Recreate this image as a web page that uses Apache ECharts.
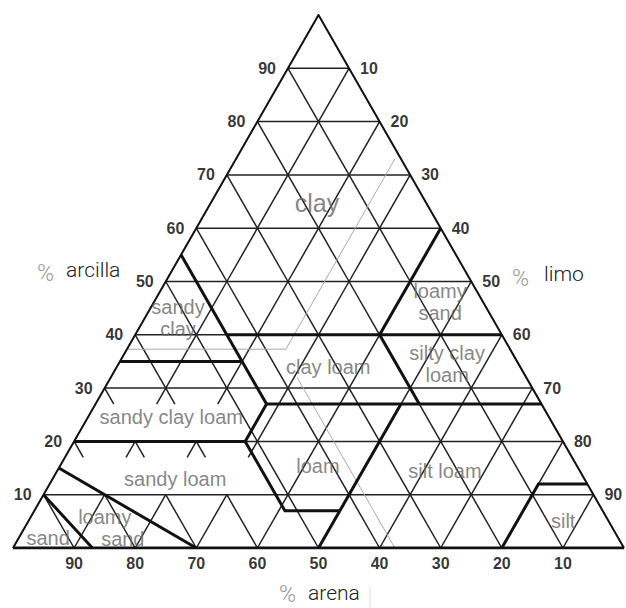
<!DOCTYPE html>
<html>
<head>
<meta charset="utf-8">
<title>Triángulo textural</title>
<script src="https://cdn.jsdelivr.net/npm/echarts@6/dist/echarts.min.js"></script>
<style>
html, body { margin: 0; padding: 0; background: #fff; }
#main { width: 626px; height: 608px; }
</style>
</head>
<body>
<div id="main"></div>
<script>
// puntos ternarios: [arcilla, limo, arena] en %
var ticks = [10, 20, 30, 40, 50, 60, 70, 80, 90];

// limites de las clases texturales
var sandyClayEdge = [[55, 0, 45], [27, 28, 45]];
var clay35 = [[35, 0, 65], [35, 20, 45]];
var clay40 = [[40, 15, 45], [40, 60, 0]];
var silt40 = [[60, 40, 0], [40, 40, 20]];
var sand20 = [[40, 40, 20], [27, 53, 20]];
var clay27 = [[27, 28, 45], [27, 73, 0]];
var loamLeft = [[27, 28, 45], [20, 28, 52], [7, 41, 52], [7, 50, 43]];
var clay20 = [[20, 0, 80], [20, 28, 52]];
var silt50 = [[27, 50, 23], [0, 50, 50]];
var siltCorner = [[12, 88, 0], [12, 80, 8], [0, 80, 20]];
var loamySandEdge = [[15, 0, 85], [0, 30, 70]];
var sandEdge = [[10, 0, 90], [0, 13, 87]];

// lineas tenues del original
var faintA = [[73, 26, 1], [37.3, 26, 36.7], [37.3, 0, 62.7]];
var faintB = [[32, 30.5, 37.5], [0, 62.5, 37.5]];

// nombres de clase y donde van
var classNames = ['clay', 'sandy\nclay', 'loamy\nsand', 'clay loam', 'silty clay\nloam',
    'sandy clay loam', 'loam', 'silt loam', 'sandy loam', 'loamy sand', 'sand', 'silt'];
var classPoints = [[64.7, 17.4, 17.9], [43.2, 5.4, 51.4], [46.2, 46.8, 7], [34, 34.6, 31.4],
    [34.5, 53.8, 11.7], [24.6, 13.6, 61.8], [15.4, 42.2, 42.4], [14.4, 63.5, 22.1],
    [12.9, 20.1, 67], [3.8, 14.6, 81.6], [1.9, 4.8, 93.3], [5.1, 87.5, 7.4]];

function toXY(p) {
    return [p[1] + p[0] / 2, p[0]];
}
function seg(a, b) {
    return { coords: [toXY(a), toXY(b)] };
}
function poly(pts) {
    return { coords: pts.map(toXY) };
}

var myChart = echarts.init(document.getElementById('main'), null, { renderer: 'svg' });

// rejilla cada 10 %
var gridLines = [];
ticks.forEach(function (t) {
    gridLines.push(seg([t, 0, 100 - t], [t, 100 - t, 0]));
});
for (var b = 0; b < 100; b += 10) {
    ticks.forEach(function (t) {
        if (b + 10 > 100 - t) return;
        var partial = (b == 10 || b == 20);
        // lineas de limo constante
        if (partial && 95 - t - b > 51) {
            gridLines.push(seg([b + 10, t, 90 - t - b], [b + 7, t, 93 - t - b]));
        } else {
            gridLines.push(seg([b, t, 100 - t - b], [b + 10, t, 90 - t - b]));
        }
        // lineas de arena constante
        if (partial && t > 51) {
            gridLines.push(seg([b + 10, 90 - t - b, t], [b + 7, 93 - t - b, t]));
        } else {
            gridLines.push(seg([b, 100 - t - b, t], [b + 10, 90 - t - b, t]));
        }
    });
}

var bounds = [sandyClayEdge, clay35, clay40, silt40, sand20, clay27, loamLeft,
    clay20, silt50, siltCorner, loamySandEdge, sandEdge].map(poly);

var tickFont = { fontFamily: 'Liberation Sans, Arial, sans-serif', fontWeight: 'bold', fontSize: 16, color: '#000' };
var titleFont = 'Roboto, Liberation Sans, Arial, sans-serif';
var classColor = '#666';

var classData = classNames.map(function (n, i) {
    var item = { name: n, value: toXY(classPoints[i]) };
    if (n == 'clay') item.label = { fontSize: 25 };
    if (n == 'loamy sand') {
        item.label = {
            formatter: '{a|loamy}\n{b|sand}',
            rich: {
                a: { padding: [0, 18, 0, 0], fontSize: 20, color: classColor, lineHeight: 22 },
                b: { padding: [0, 0, 0, 18], fontSize: 20, color: classColor, lineHeight: 22 }
            }
        };
    }
    return item;
});

function titlePct(x, y) {
    return {
        type: 'text', x: x, y: y,
        style: { text: '%', fontFamily: titleFont, fontWeight: 300, fontSize: 23, fill: '#999', verticalAlign: 'middle' }
    };
}
function titleWord(x, y, word) {
    return {
        type: 'text', x: x, y: y,
        style: { text: word, fontFamily: titleFont, fontWeight: 300, fontSize: 21, fill: '#222', verticalAlign: 'middle' }
    };
}

var option = {
    animation: false,
    grid: { left: 13, right: 2, top: 15, bottom: 60 },
    xAxis: { type: 'value', min: 0, max: 100, show: false },
    yAxis: { type: 'value', min: 0, max: 100, show: false },
    series: [
        {
            type: 'lines', coordinateSystem: 'cartesian2d', polyline: true, silent: true,
            lineStyle: { color: '#222', width: 1.5, opacity: 1 },
            data: gridLines
        },
        {
            type: 'lines', coordinateSystem: 'cartesian2d', polyline: true, silent: true,
            lineStyle: { color: '#aaa', width: 1, opacity: 1 },
            data: [poly(faintA), poly(faintB)]
        },
        {
            type: 'lines', coordinateSystem: 'cartesian2d', polyline: true, silent: true,
            lineStyle: { color: '#111', width: 3, opacity: 1 },
            data: bounds
        },
        {
            // borde del triangulo
            type: 'lines', coordinateSystem: 'cartesian2d', polyline: true, silent: true,
            lineStyle: { color: '#111', width: 2, opacity: 1 },
            data: [poly([[0, 0, 100], [100, 0, 0], [0, 100, 0]])]
        },
        {
            type: 'lines', coordinateSystem: 'cartesian2d', polyline: true, silent: true,
            lineStyle: { color: '#111', width: 3, opacity: 1 },
            data: [poly([[0, 0, 100], [0, 100, 0]])]
        },
        {
            // % arcilla
            type: 'scatter', symbolSize: 0, itemStyle: { color: 'transparent' }, silent: true,
            label: Object.assign({ show: true, position: 'left', distance: 12, formatter: '{b}' }, tickFont),
            data: ticks.map(function (t) { return { name: String(t), value: toXY([t, 0, 100 - t]) }; })
        },
        {
            // % limo
            type: 'scatter', symbolSize: 0, itemStyle: { color: 'transparent' }, silent: true,
            label: Object.assign({ show: true, position: 'right', distance: 11, formatter: '{b}' }, tickFont),
            data: ticks.map(function (t) { return { name: String(t), value: toXY([100 - t, t, 0]) }; })
        },
        {
            // % arena
            type: 'scatter', symbolSize: 0, itemStyle: { color: 'transparent' }, silent: true,
            label: Object.assign({ show: true, position: 'bottom', distance: 7, formatter: '{b}' }, tickFont),
            data: ticks.map(function (t) { return { name: String(t), value: toXY([0, 100 - t, t]) }; })
        },
        {
            type: 'scatter', symbolSize: 0, itemStyle: { color: 'transparent' }, silent: true,
            label: {
                show: true, position: 'inside', formatter: '{b}',
                fontFamily: 'Liberation Sans, Arial, sans-serif', fontSize: 20, color: classColor, lineHeight: 22
            },
            data: classData
        }
    ],
    graphic: [
        titlePct(37, 273), titleWord(66, 270, 'arcilla'),
        titlePct(512, 278), titleWord(544, 274, 'limo'),
        titlePct(279, 594), titleWord(308, 593, 'arena'),
        {
            type: 'line', shape: { x1: 370, y1: 587, x2: 370, y2: 608 },
            style: { stroke: '#ddd', lineWidth: 1 }
        }
    ]
};

myChart.setOption(option);
window.addEventListener('resize', function () {
    myChart.resize();
});
</script>
</body>
</html>
